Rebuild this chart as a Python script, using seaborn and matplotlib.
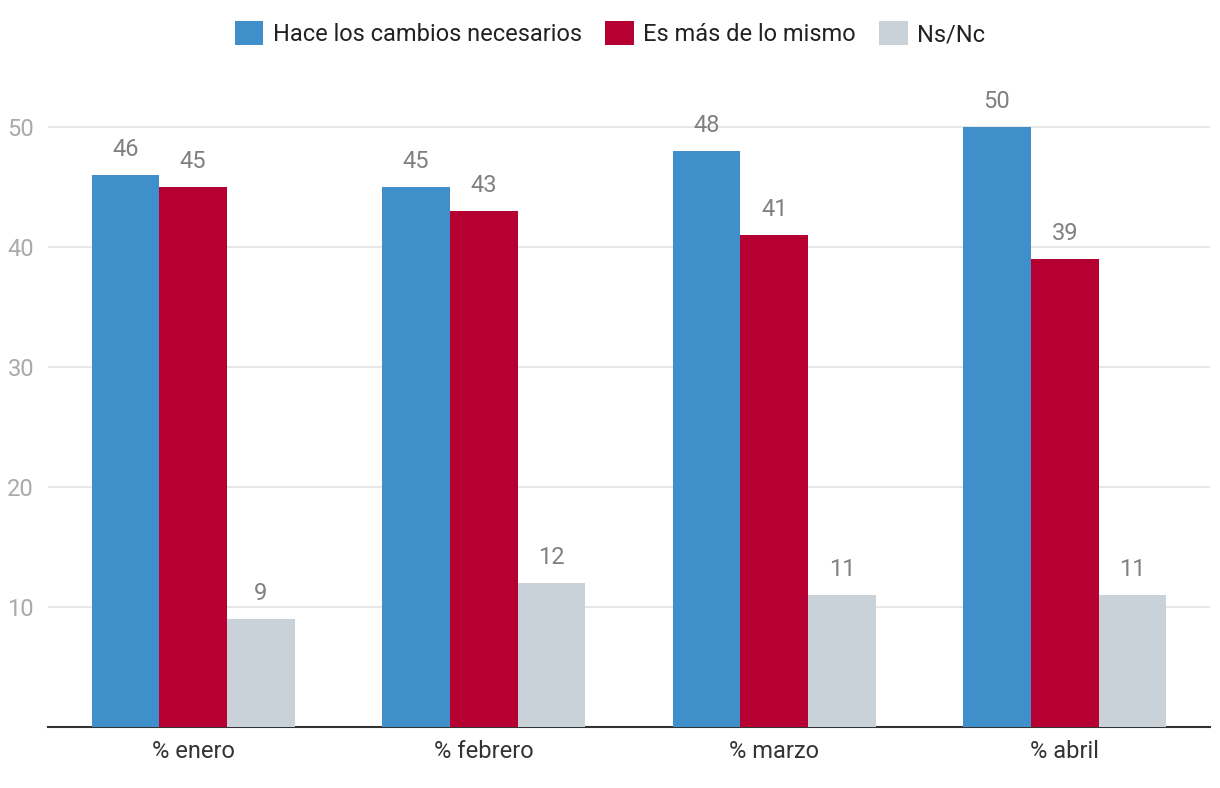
import matplotlib
matplotlib.use("Agg")
import matplotlib.pyplot as plt
import seaborn as sns
import pandas as pd

categories = ["% enero", "% febrero", "% marzo", "% abril"]
series_names = ["Hace los cambios necesarios", "Es más de lo mismo", "Ns/Nc"]
hace = [46, 45, 48, 50]
mismo = [45, 43, 41, 39]
nsnc = [9, 12, 11, 11]
colors = ["#3F8FCB", "#B50031", "#C8D2D8"]
yticks = [10, 20, 30, 40, 50]

rows = []
for name, vals in zip(series_names, [hace, mismo, nsnc]):
    for c, v in zip(categories, vals):
        rows.append({"cat": c, "serie": name, "val": v})
df = pd.DataFrame(rows)

sns.set_theme(style="white")
plt.rcParams["font.family"] = ["Roboto", "DejaVu Sans"]

fig = plt.figure(figsize=(12.2, 7.88), dpi=100)
ax = fig.add_axes([0.0393, 0.0774, 0.9525, 0.838])
sns.barplot(data=df, x="cat", y="val", hue="serie", order=categories,
            hue_order=series_names, palette=colors, width=0.7, saturation=1,
            linewidth=0, edgecolor="none", ax=ax, zorder=3)

for cont in ax.containers:
    ax.bar_label(cont, padding=10, fontsize=17, color="#808080")

ax.set_ylim(0, 55)
ax.set_xlim(-0.5, 3.5)
ax.set_yticks(yticks)
ax.yaxis.grid(True, color="#e3e3e3", linewidth=1.2, zorder=0)
ax.set_axisbelow(True)
for s in ["top", "right", "left"]:
    ax.spines[s].set_visible(False)
ax.spines["bottom"].set_color("#333333")
ax.spines["bottom"].set_linewidth(1.5)
ax.tick_params(axis="y", length=0, labelsize=17, labelcolor="#aaaaaa", pad=10)
ax.tick_params(axis="x", length=0, labelsize=17, labelcolor="#333333", pad=9)
ax.set_xlabel("")
ax.set_ylabel("")

handles, labels = ax.get_legend_handles_labels()
ax.get_legend().remove()
fig.legend(handles, labels, loc="upper center", bbox_to_anchor=(0.5, 1.0),
           ncol=3, frameon=False, fontsize=17, handlelength=1.2, handleheight=1.2,
           handletextpad=0.4, columnspacing=1.0, labelcolor="#222222")

fig.savefig("out.png", dpi=100)
